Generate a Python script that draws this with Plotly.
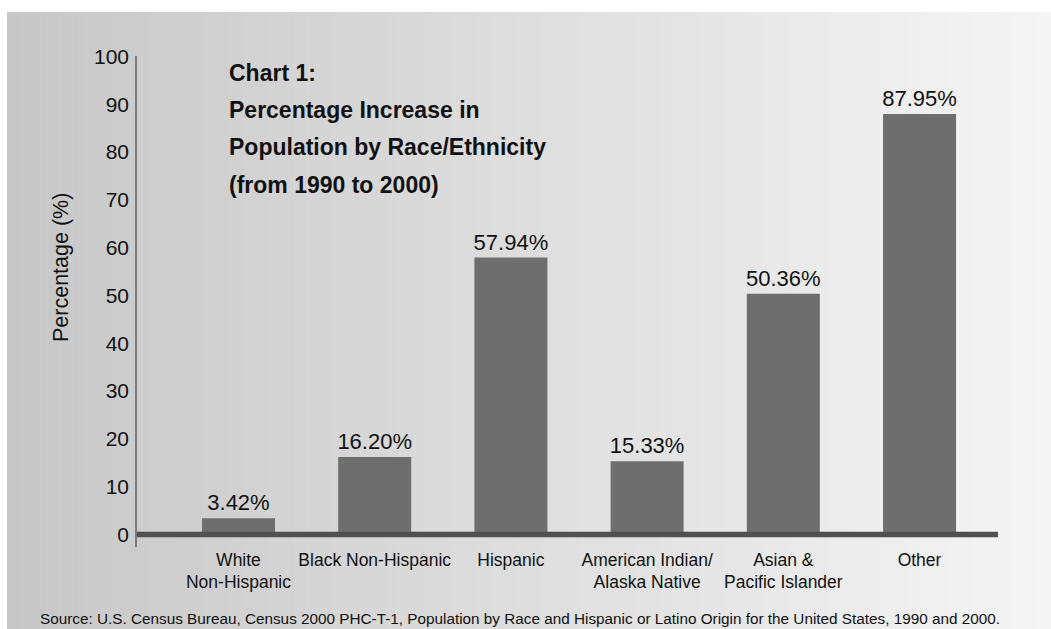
import plotly.graph_objects as go

# Population growth by race/ethnicity, 1990 -> 2000 (percent)
categories = [
    "White<br>Non-Hispanic",
    "Black Non-Hispanic",
    "Hispanic",
    "American Indian/<br>Alaska Native",
    "Asian &<br>Pacific Islander",
    "Other",
]
pct_increase = [3.42, 16.20, 57.94, 15.33, 50.36, 87.95]
y_ticks = [0, 10, 20, 30, 40, 50, 60, 70, 80, 90, 100]

title_lines = [
    "Chart 1:",
    "Percentage Increase in",
    "Population by Race/Ethnicity",
    "(from 1990 to 2000)",
]
source_note = ("Source: U.S. Census Bureau, Census 2000 PHC-T-1, Population by Race "
               "and Hispanic or Latino Origin for the United States, 1990 and 2000.")

W, H = 1051, 629
ML, MR, MT, MB = 137, 53, 56, 82
PW, PH = W - ML - MR, H - MT - MB

SANS = "Liberation Sans, Arial, sans-serif"


def px_x(px):
    return (px - ML) / PW


def px_y(py):
    return (H - MB - py) / PH


fig = go.Figure()
fig.add_trace(go.Bar(
    x=list(range(len(categories))),
    y=pct_increase,
    marker=dict(color="#6e6e6e", line=dict(width=0)),
    width=0.536,
    text=[f"{v:.2f}%" for v in pct_increase],
    textposition="outside",
    constraintext="none",
    cliponaxis=False,
    textfont=dict(family=SANS, size=22, color="#111111"),
    hoverinfo="skip",
))

# Horizontal grey gradient panel behind the chart
shapes = []
n_strips = 80
x_left, x_right, y_top = 7, W, 12
c_left, c_right = 199, 245
for i in range(n_strips):
    a = x_left + (x_right - x_left) * i / n_strips
    b = x_left + (x_right - x_left) * (i + 1) / n_strips
    c = round(c_left + (c_right - c_left) * (i + 0.5) / n_strips)
    shapes.append(dict(
        type="rect", xref="paper", yref="paper", layer="below",
        x0=px_x(a), x1=px_x(b + 0.6), y0=px_y(H), y1=px_y(y_top),
        fillcolor=f"rgb({c},{c},{c})", line=dict(width=0),
    ))

# Heavy baseline at zero
shapes.append(dict(
    type="line", xref="paper", yref="y", layer="above",
    x0=0, x1=1, y0=0, y1=0,
    line=dict(color="#505050", width=5.5),
))

annotations = []
# Chart title, one line per annotation for even spacing
title_y = [73, 110, 147, 185]
for line, ty in zip(title_lines, title_y):
    annotations.append(dict(
        text=line, xref="paper", yref="paper",
        x=px_x(227), y=px_y(ty), xanchor="left", yanchor="middle",
        showarrow=False,
        font=dict(family=SANS, size=23, color="#111111", weight="bold"),
    ))
annotations += [
    dict(
        text="Percentage (%)", xref="paper", yref="paper",
        x=px_x(61), y=px_y(268), xanchor="center", yanchor="middle",
        textangle=-90, showarrow=False,
        font=dict(family=SANS, size=21.5, color="#111111"),
    ),
    dict(
        text=source_note, xref="paper", yref="paper",
        x=px_x(519.5), y=px_y(618), xanchor="center", yanchor="middle",
        showarrow=False,
        font=dict(family=SANS, size=15.3, color="#111111"),
    ),
]

fig.update_layout(
    width=W, height=H,
    margin=dict(l=ML, r=MR, t=MT, b=MB, pad=0),
    paper_bgcolor="white",
    plot_bgcolor="rgba(0,0,0,0)",
    showlegend=False,
    shapes=shapes,
    annotations=annotations,
    xaxis=dict(
        range=[-0.745, 5.576],
        tickvals=list(range(len(categories))),
        ticktext=categories,
        showline=False, showgrid=False, zeroline=False,
        ticks="", tickfont=dict(family=SANS, size=17.5, color="#111111"),
        fixedrange=True,
    ),
    yaxis=dict(
        range=[-2.6, 100.1],
        tickvals=y_ticks,
        showline=True, linecolor="#7a7a7a", linewidth=1.5,
        showgrid=False, zeroline=False,
        ticks="", ticklabelstandoff=2,
        tickfont=dict(family=SANS, size=21, color="#111111"),
        fixedrange=True,
    ),
)

fig.write_html("out.html")
